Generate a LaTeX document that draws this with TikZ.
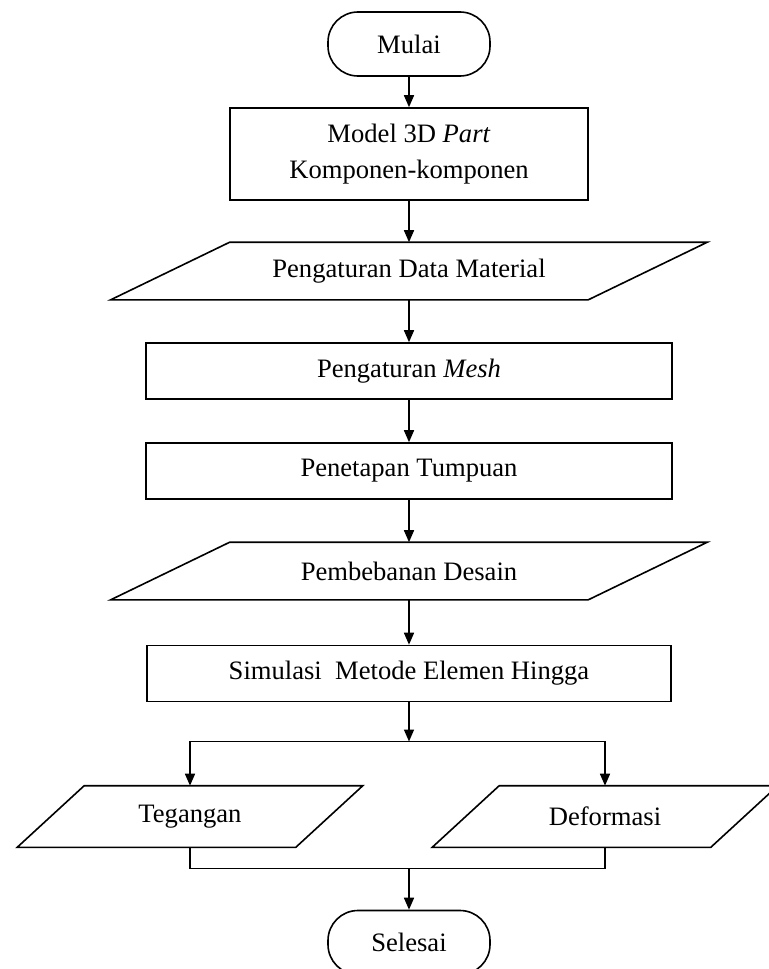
\documentclass[tikz,border=0pt]{standalone}
\usepackage{fontspec}
\setmainfont{Liberation Serif}
\usetikzlibrary{positioning,arrows.meta}

\tikzset{
	terminal/.style={draw,rounded corners=15pt,minimum width=81pt,minimum height=32pt},
	process/.style={draw,minimum height=28pt,align=center},
	io/.style={minimum height=28pt,inner sep=0pt},
}

\begin{document}
\begin{tikzpicture}[>={Triangle[length=6pt,width=5pt]},node distance=50pt,on grid,thick,font=\fontsize{13.3}{18}\selectfont]
	\clip (0,0) rectangle (384.5pt,-484.5pt);

	\node[terminal] (mulai) at (204.5pt,-22pt) {Mulai};
	\node[process,minimum width=179pt,minimum height=46pt] (model) [below=55pt of mulai] {Model 3D \textit{Part}\\Komponen-komponen};
	\node[io,minimum width=238pt] (material) [below=58.5pt of model] {Pengaturan Data Material};
	\node[process,minimum width=263pt] (mesh) [below=of material] {Pengaturan \textit{Mesh}};
	\node[process,minimum width=263pt] (tumpuan) [below=of mesh] {Penetapan Tumpuan};
	\node[io,minimum width=238pt] (beban) [below=of tumpuan] {Pembebanan Desain};
	\node[process,minimum width=262pt] (simulasi) [below=51.25pt of beban] {Simulasi\ \ Metode Elemen Hingga};
	\node[io,minimum width=138.5pt,minimum height=30pt] (tegangan) [below left=71.5pt and 109.5pt of simulasi] {Tegangan};
	\node[io,minimum width=138.5pt,minimum height=30pt] (deformasi) [below right=71.5pt and 98pt of simulasi] {Deformasi};
	\node[terminal] (selesai) [below=134.5pt of simulasi] {Selesai};

	% parallelogram outlines
	\foreach \n/\s in {material/29.75pt,beban/29.75pt,tegangan/16.75pt,deformasi/16.75pt}
		\draw ([xshift=-\s]\n.south west) -- ([xshift=\s]\n.north west) -- ([xshift=\s]\n.north east) -- ([xshift=-\s]\n.south east) -- cycle;

	\coordinate[below=34pt of simulasi] (split);
	\coordinate[above=37pt of selesai] (merge);

	\draw[->] (mulai) -- (model);
	\draw[->] (model) -- (material);
	\draw[->] (material) -- (mesh);
	\draw[->] (mesh) -- (tumpuan);
	\draw[->] (tumpuan) -- (beban);
	\draw[->] (beban) -- (simulasi);
	\draw[->] (simulasi) -- (split);
	\draw[->] (split) -| (tegangan);
	\draw[->] (split) -| (deformasi);
	\draw (tegangan) |- (merge) -| (deformasi);
	\draw[->] (merge) -- (selesai);

\end{tikzpicture}
\end{document}
